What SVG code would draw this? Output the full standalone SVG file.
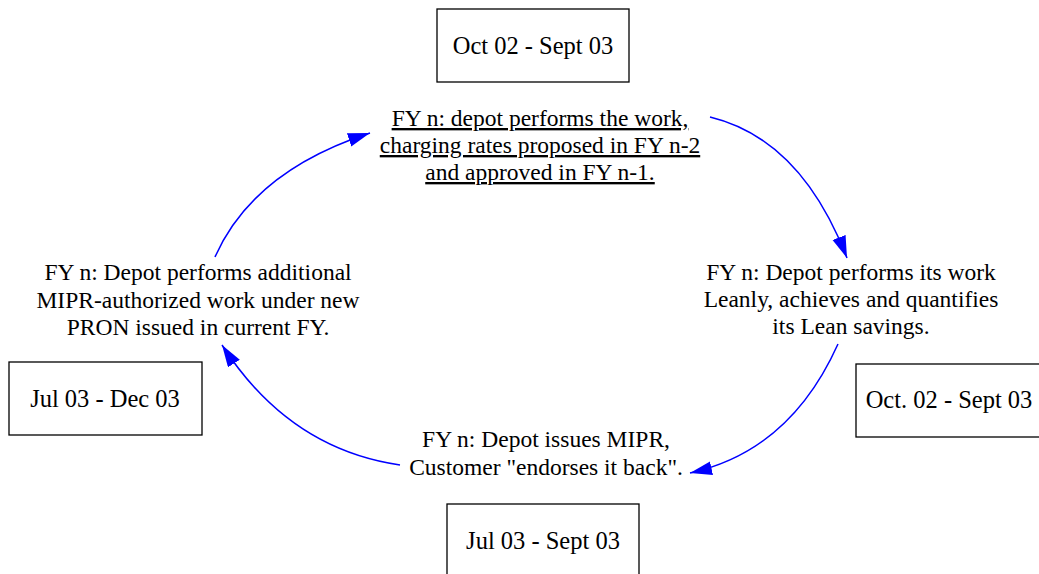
<svg xmlns="http://www.w3.org/2000/svg" width="1039" height="574" viewBox="0 0 1039 574">
  <style>
    .box { fill: #ffffff; stroke: #000000; stroke-width: 1.3; }
    .lbl { font-family: "Liberation Serif", "Times New Roman", serif; font-size: 23.5px; fill: #000000; text-anchor: middle; }
    .date { font-size: 24.5px; }
    .ul { text-decoration: underline; }
    .edge { fill: none; stroke: #0000ff; stroke-width: 1.5; marker-end: url(#head); }
  </style>
  <defs>
    <marker id="head" markerUnits="userSpaceOnUse" markerWidth="24" markerHeight="16" refX="22" refY="7" orient="auto">
      <path d="M0,0 L22,7 L0,14 z" fill="#0000ff"/>
    </marker>
  </defs>
  <rect width="1039" height="574" fill="#ffffff"/>

  <!-- date boxes -->
  <g id="date-top">
    <rect class="box" x="437" y="9" width="192" height="73"/>
    <text class="lbl date" x="533" y="54">Oct 02 - Sept 03</text>
  </g>
  <g id="date-right">
    <rect class="box" x="856" y="364" width="192" height="73"/>
    <text class="lbl date" x="949" y="408">Oct. 02 - Sept 03</text>
  </g>
  <g id="date-bottom">
    <rect class="box" x="447" y="504" width="192" height="73"/>
    <text class="lbl date" x="543" y="549">Jul 03 - Sept 03</text>
  </g>
  <g id="date-left">
    <rect class="box" x="9" y="362" width="193" height="73"/>
    <text class="lbl date" x="105" y="407">Jul 03 - Dec 03</text>
  </g>

  <!-- cycle steps -->
  <g id="step-perform">
    <text class="lbl ul" x="540" y="126">FY n: depot performs the work,</text>
    <text class="lbl ul" x="540" y="153">charging rates proposed in FY n-2</text>
    <text class="lbl ul" x="540" y="180">and approved in FY n-1.</text>
  </g>
  <g id="step-lean">
    <text class="lbl" x="851" y="280">FY n: Depot performs its work</text>
    <text class="lbl" x="851" y="307">Leanly, achieves and quantifies</text>
    <text class="lbl" x="851" y="334">its Lean savings.</text>
  </g>
  <g id="step-mipr">
    <text class="lbl" x="546" y="447">FY n: Depot issues MIPR,</text>
    <text class="lbl" x="546" y="475">Customer "endorses it back".</text>
  </g>
  <g id="step-additional">
    <text class="lbl" x="198" y="280">FY n: Depot performs additional</text>
    <text class="lbl" x="198" y="308">MIPR-authorized work under new</text>
    <text class="lbl" x="198" y="335">PRON issued in current FY.</text>
  </g>

  <!-- connectors -->
  <g id="connectors">
    <path class="edge" d="M215,257 Q253,171 370,133"/>
    <path class="edge" d="M710,117 Q801,139 847,258"/>
    <path class="edge" d="M838,344 Q790,451 690,473"/>
    <path class="edge" d="M400,465 Q289,449 222,345"/>
  </g>
</svg>
